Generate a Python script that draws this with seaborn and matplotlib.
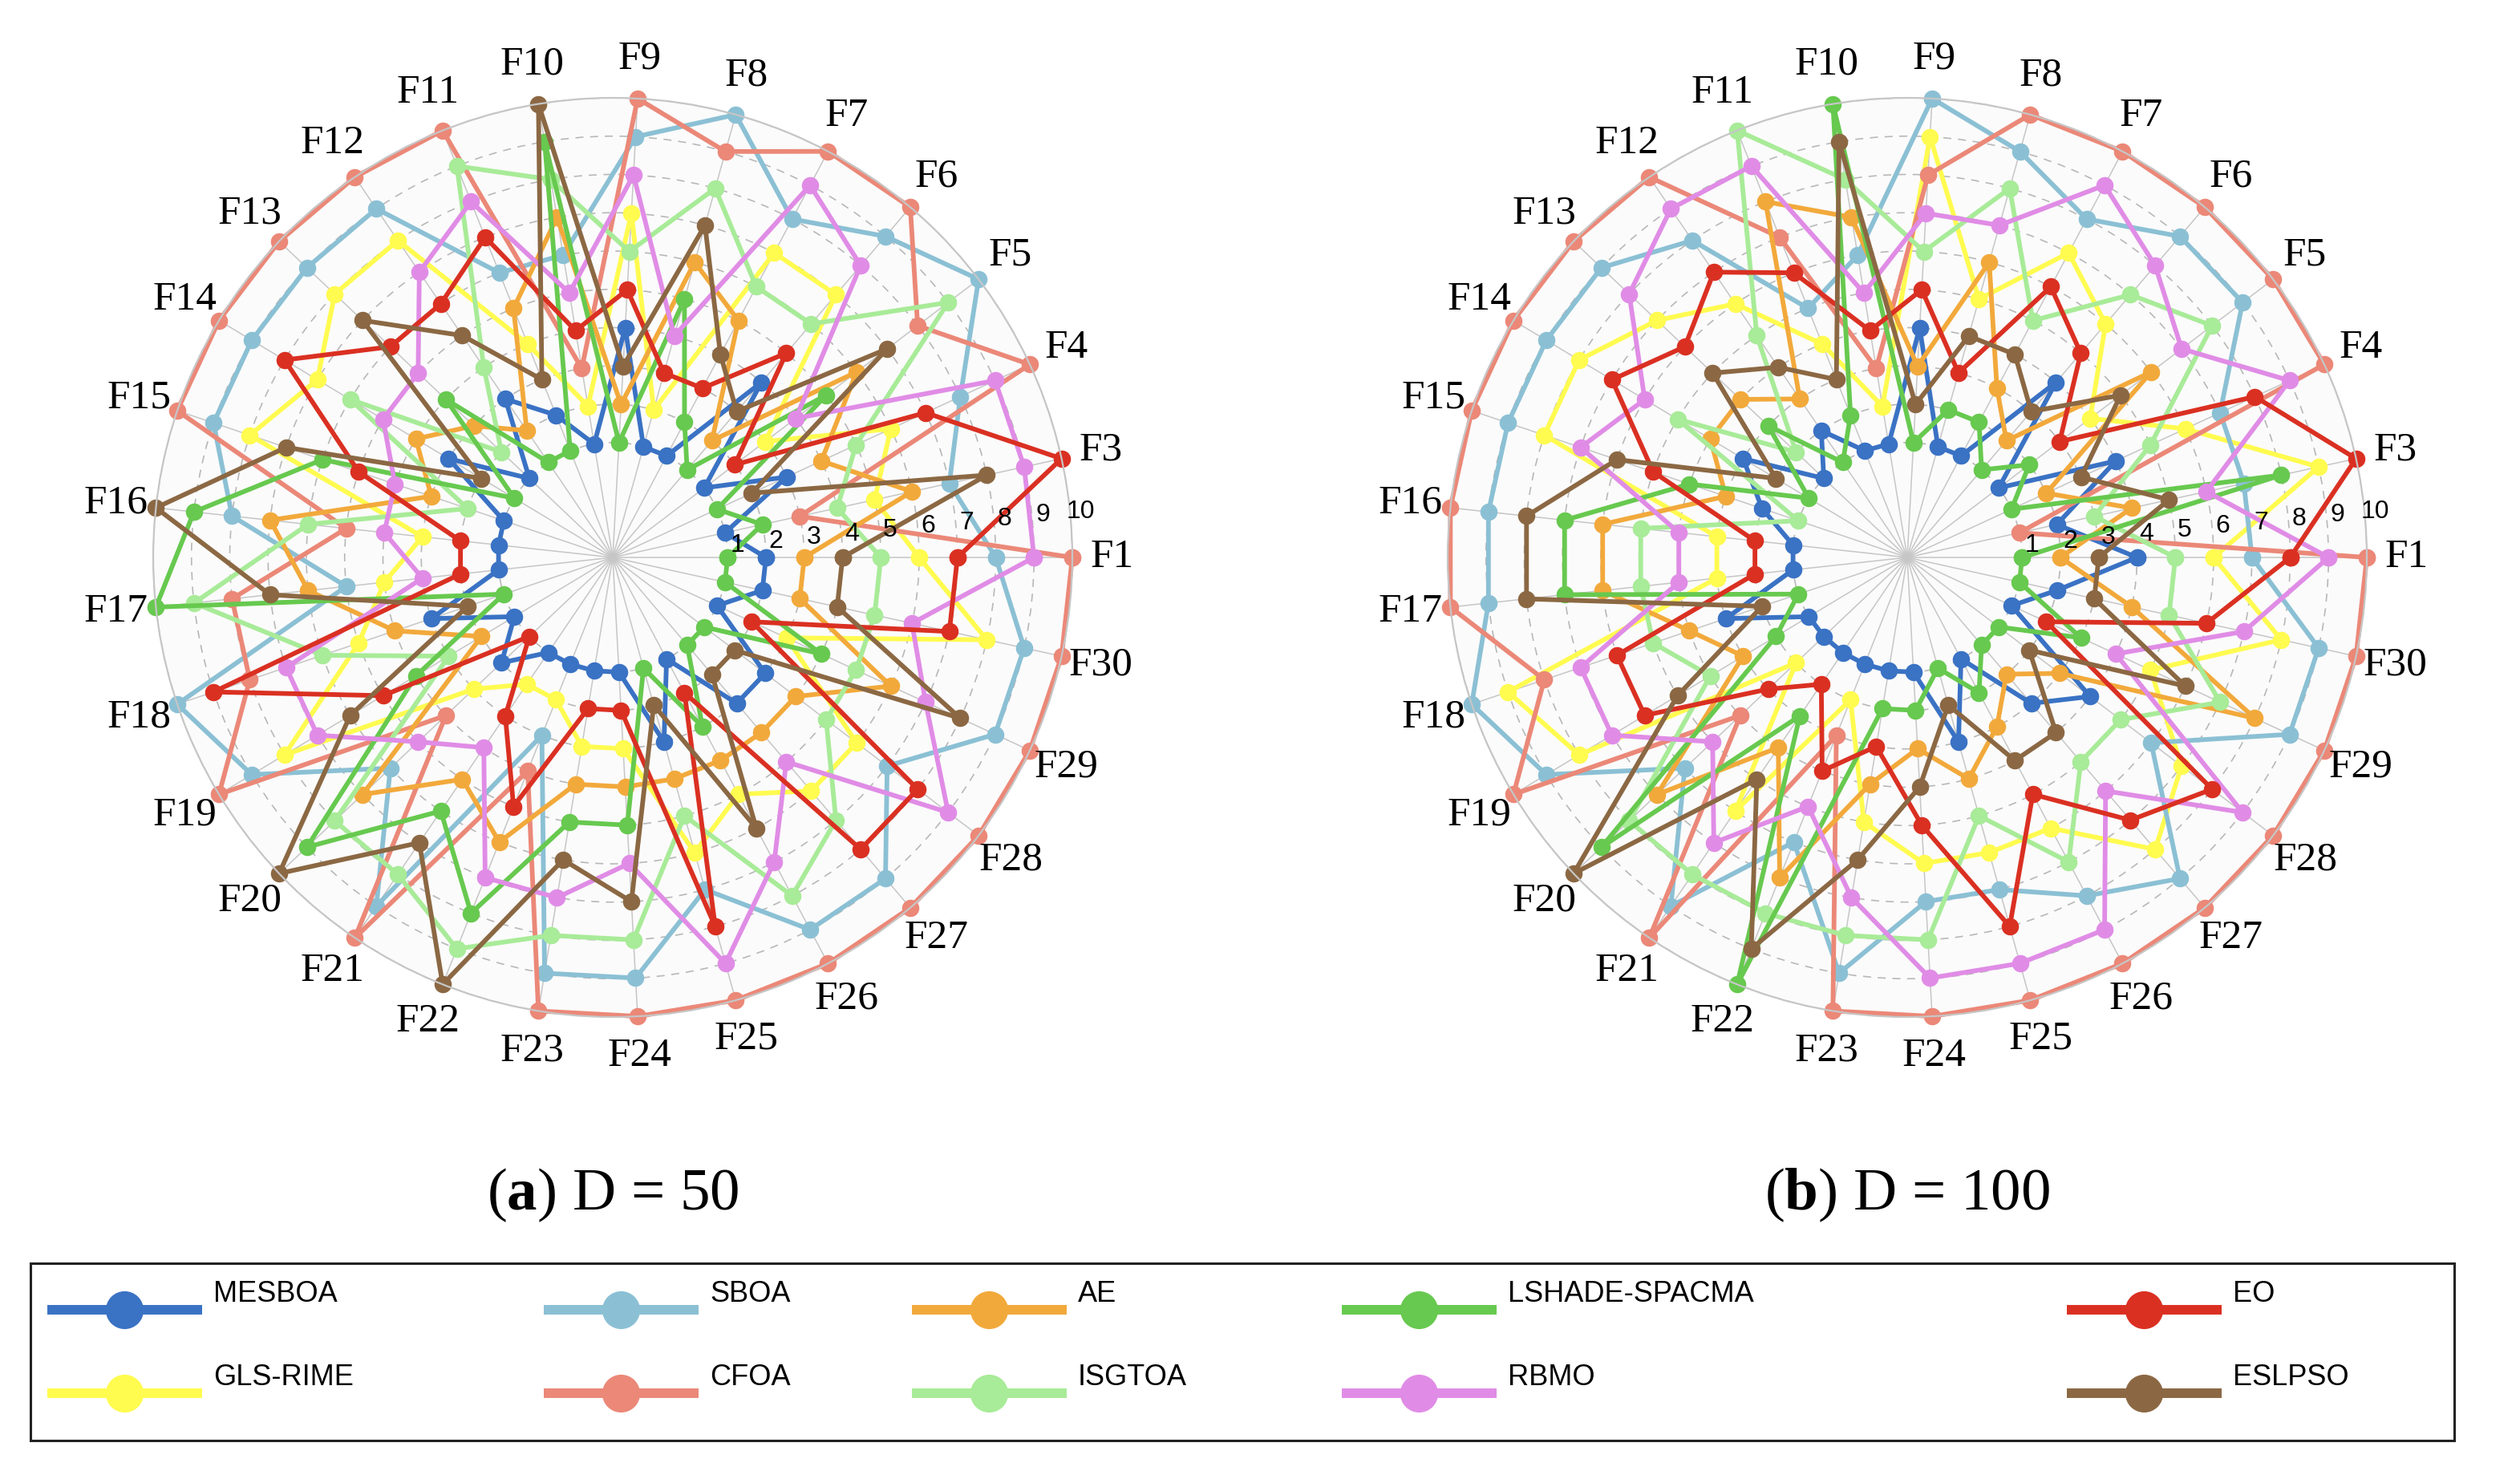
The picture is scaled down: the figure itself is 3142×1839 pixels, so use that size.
import matplotlib
matplotlib.use("Agg")
import matplotlib.pyplot as plt
import numpy as np
import pandas as pd
import seaborn as sns

# CEC2017 functions (F2 excluded)
FUNCS = ["F1"] + [f"F{i}" for i in range(3, 31)]

ALGOS = ["MESBOA", "SBOA", "AE", "LSHADE-SPACMA", "EO",
         "GLS-RIME", "CFOA", "ISGTOA", "RBMO", "ESLPSO"]
COLORS = {
    "MESBOA": "#3a72c4",
    "SBOA": "#8bc0d4",
    "AE": "#f2a93b",
    "LSHADE-SPACMA": "#67c94f",
    "EO": "#da3022",
    "GLS-RIME": "#fffb4f",
    "CFOA": "#eb8878",
    "ISGTOA": "#a8eb98",
    "RBMO": "#e08ce6",
    "ESLPSO": "#8b6843",
}
# drawing order (later = on top)
DRAW_ORDER = ["MESBOA", "GLS-RIME", "SBOA", "CFOA", "AE",
              "ISGTOA", "LSHADE-SPACMA", "RBMO", "EO", "ESLPSO"]

# Friedman ranks, D = 50   (F1, F3, F4, ..., F30)
MESBOA_50 = [2, 1, 3, 1, 4, 1, 1, 4, 1, 2, 3, 1, 3, 1, 1, 1, 3, 1, 2, 1, 1, 1, 1, 3, 1, 3, 3, 1, 2]
SBOA_50   = [8, 7, 8, 10, 9, 8, 10, 9, 6, 6, 9, 9, 9, 9, 8, 5, 10, 9, 6, 9, 3, 9, 9, 7, 9, 9, 7, 9, 9]
AE_50     = [3, 6, 4, 6, 2, 5, 6, 2, 7, 5, 2, 3, 4, 3, 7, 6, 4, 2, 7, 5, 6, 4, 4, 4, 4, 4, 4, 6, 3]
LSHADE_50 = [1, 2, 1, 5, 1, 2, 5, 1, 9, 1, 1, 4, 1, 6, 9, 10, 1, 4, 9, 6, 8, 5, 5, 1, 3, 1, 1, 4, 1]
EO_50     = [7, 10, 7, 2, 5, 3, 3, 5, 4, 7, 6, 6, 8, 5, 2, 2, 9, 5, 1, 3, 5, 2, 2, 8, 2, 8, 8, 2, 7]
GLS_50    = [6, 5, 6, 3, 7, 7, 2, 7, 2, 4, 8, 8, 7, 8, 3, 4, 5, 8, 3, 2, 2, 3, 3, 6, 5, 6, 6, 3, 8]
CFOA_50   = [10, 3, 10, 8, 10, 10, 9, 10, 3, 10, 10, 10, 10, 10, 5, 8, 8, 10, 4, 10, 4, 10, 10, 10, 10, 10, 10, 10, 10]
ISGTOA_50 = [5, 4, 5, 9, 6, 6, 8, 6, 8, 9, 4, 2, 6, 2, 6, 9, 6, 3, 8, 8, 9, 8, 8, 5, 8, 7, 5, 5, 5]
RBMO_50   = [9, 9, 9, 4, 8, 9, 4, 8, 5, 8, 7, 5, 5, 4, 4, 3, 7, 7, 5, 4, 7, 7, 6, 9, 7, 5, 9, 7, 6]
ESLPSO_50 = [4, 8, 2, 7, 3, 4, 7, 3, 10, 3, 5, 7, 2, 7, 10, 7, 2, 6, 10, 7, 10, 6, 7, 2, 6, 2, 2, 8, 4]

# Friedman ranks, D = 100
MESBOA_100 = [4, 2, 4, 1, 4, 1, 1, 4, 1, 1, 2, 1, 3, 2, 1, 1, 3, 1, 1, 1, 1, 1, 1, 3, 1, 3, 4, 1, 2]
SBOA_100   = [7, 7, 7, 9, 9, 8, 9, 10, 6, 5, 8, 9, 9, 9, 9, 9, 10, 9, 6, 9, 6, 9, 7, 7, 8, 9, 6, 9, 9]
AE_100     = [2, 4, 2, 6, 2, 3, 6, 3, 7, 8, 3, 4, 4, 3, 6, 6, 4, 3, 7, 4, 7, 4, 3, 4, 3, 2, 3, 8, 4]
LSHADE_100 = [1, 8, 1, 2, 1, 2, 2, 1, 10, 2, 1, 3, 1, 4, 7, 7, 1, 2, 9, 3, 10, 2, 2, 1, 2, 1, 1, 3, 1]
EO_100     = [8, 10, 8, 3, 5, 6, 3, 5, 4, 6, 7, 6, 7, 5, 2, 2, 6, 6, 3, 2, 4, 3, 5, 8, 5, 7, 8, 2, 6]
GLS_100    = [6, 9, 6, 4, 6, 7, 5, 9, 2, 4, 6, 7, 8, 8, 3, 3, 9, 8, 2, 6, 2, 5, 6, 6, 6, 8, 7, 5, 8]
CFOA_100   = [10, 1, 10, 10, 10, 10, 10, 8, 3, 7, 10, 10, 10, 10, 10, 10, 8, 10, 4, 10, 3, 10, 10, 10, 10, 10, 10, 10, 10]
ISGTOA_100 = [5, 3, 5, 8, 7, 5, 8, 6, 8, 10, 5, 2, 5, 1, 5, 5, 5, 4, 8, 8, 8, 8, 8, 5, 7, 5, 5, 7, 5]
RBMO_100   = [9, 6, 9, 7, 8, 9, 7, 7, 5, 9, 9, 8, 6, 7, 4, 4, 7, 7, 5, 7, 5, 7, 9, 9, 9, 6, 9, 4, 7]
ESLPSO_100 = [3, 5, 3, 5, 3, 4, 4, 2, 9, 3, 4, 5, 2, 6, 8, 8, 2, 5, 10, 5, 9, 6, 4, 2, 4, 4, 2, 6, 3]

RANKS_50 = dict(zip(ALGOS, [MESBOA_50, SBOA_50, AE_50, LSHADE_50, EO_50,
                            GLS_50, CFOA_50, ISGTOA_50, RBMO_50, ESLPSO_50]))
RANKS_100 = dict(zip(ALGOS, [MESBOA_100, SBOA_100, AE_100, LSHADE_100, EO_100,
                             GLS_100, CFOA_100, ISGTOA_100, RBMO_100, ESLPSO_100]))

W, H = 3142, 1839
SERIF = ["Liberation Serif", "DejaVu Serif"]
SANS = ["Liberation Sans", "DejaVu Sans"]

plt.rcParams["mathtext.fontset"] = "custom"
plt.rcParams["mathtext.rm"] = "Liberation Serif"
plt.rcParams["mathtext.bf"] = "Liberation Serif:bold"


def long_frame(ranks: dict) -> pd.DataFrame:
    angles = np.linspace(0, 2 * np.pi, len(FUNCS), endpoint=False)
    rows = []
    for algo, vals in ranks.items():
        th = list(angles) + [2 * np.pi]
        rv = list(vals) + [vals[0]]
        for t, r in zip(th, rv):
            rows.append((algo, t, r))
    return pd.DataFrame(rows, columns=["algo", "theta", "rank"])


def draw_panel(ax, ranks: dict):
    df = long_frame(ranks)
    sns.lineplot(data=df, x="theta", y="rank", hue="algo",
                 hue_order=DRAW_ORDER, palette=COLORS, sort=False,
                 estimator=None, marker="o", markersize=15.5,
                 markeredgewidth=0, linewidth=4.2, legend=False,
                 clip_on=False, ax=ax)
    angles = np.linspace(0, 2 * np.pi, len(FUNCS), endpoint=False)
    ax.set_theta_zero_location("E")
    ax.set_ylim(-2, 10)
    ax.set_xticks(angles)
    ax.set_xticklabels([])
    ax.set_yticks(range(1, 11))
    ax.set_yticklabels([])
    ax.set_xlabel("")
    ax.set_ylabel("")
    ax.tick_params(length=0)
    ax.xaxis.grid(True, color="#c6c6c6", lw=1.1, ls="-")
    ax.yaxis.grid(True, color="#b8b8b8", lw=1.2, ls=(0, (6, 5)))
    ax.spines["polar"].set_color("#c6c6c6")
    ax.spines["polar"].set_linewidth(1.6)
    ax.set_facecolor("#fbfbfb")
    ax.set_axisbelow(True)
    for ang, f in zip(angles, FUNCS):
        ax.text(ang, 11.05, f, ha="center", va="center", fontsize=37,
                family=SERIF, clip_on=False)
    for v in range(1, 11):
        ax.text(np.deg2rad(5.6), v + 0.28, str(v), ha="center",
                va="center", fontsize=23, family=SANS, zorder=5)


fig = plt.figure(figsize=(W / 100, H / 100), dpi=100)
fig.patch.set_facecolor("white")

R = 573
for cx, ranks, title in [(764, RANKS_50, r"($\mathbf{a}$) D = 50"),
                         (2378, RANKS_100, r"($\mathbf{b}$) D = 100")]:
    ax = fig.add_axes([(cx - R) / W, (H - 695 - R) / H, 2 * R / W, 2 * R / H],
                      projection="polar")
    draw_panel(ax, ranks)
    fig.text(cx / W, 1 - 1490 / H, title, ha="center", va="center",
             fontsize=54, family=SERIF)

# legend drawn in figure pixel space
lax = fig.add_axes([0, 0, 1, 1], facecolor="none")
lax.set_xlim(0, W)
lax.set_ylim(H, 0)
lax.axis("off")
lax.add_patch(plt.Rectangle((38, 1575), 3022, 221, fill=False,
                            ec="#222222", lw=2.2))
col_x = [59, 678, 1137, 1673, 2577]
row_y = [1633, 1737]
legend_items = [["MESBOA", "GLS-RIME"], ["SBOA", "CFOA"], ["AE", "ISGTOA"],
                ["LSHADE-SPACMA", "RBMO"], ["EO", "ESLPSO"]]
for x0, pair in zip(col_x, legend_items):
    for y0, name in zip(row_y, pair):
        c = COLORS[name]
        lax.plot([x0, x0 + 193], [y0, y0], color=c, lw=8.6,
                 solid_capstyle="butt")
        lax.plot([x0 + 96], [y0], "o", color=c, ms=34, mew=0)
        lax.text(x0 + 207, y0 - 10, name, ha="left", va="baseline",
                 fontsize=26, family=SANS)

fig.savefig("out.png", dpi=100)
